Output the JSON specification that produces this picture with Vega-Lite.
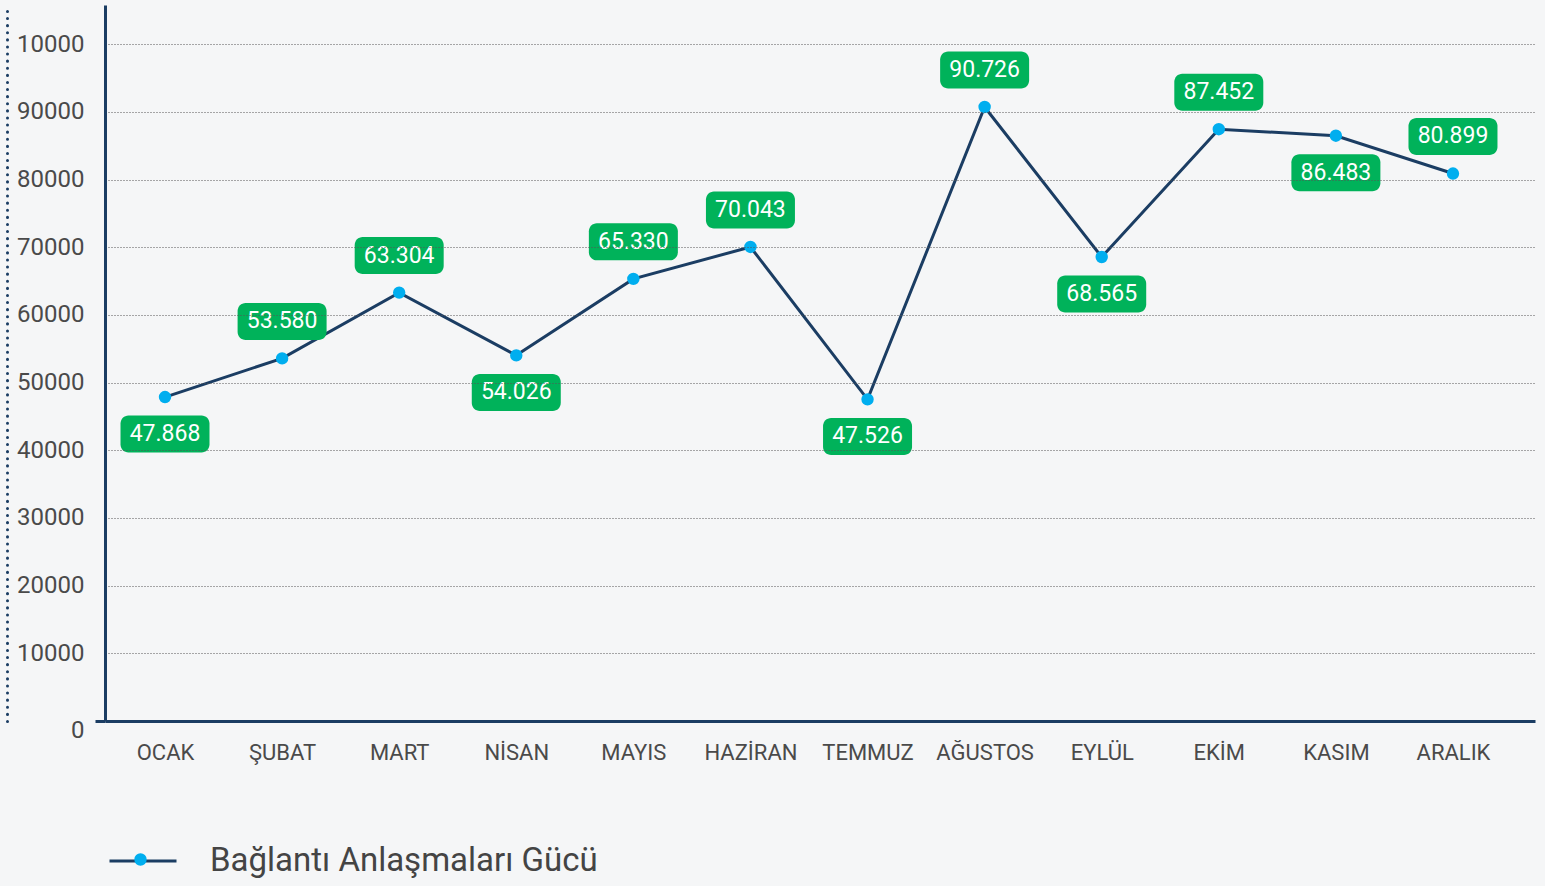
{
  "$schema": "https://vega.github.io/schema/vega-lite/v6.json",
  "width": 1430,
  "height": 716,
  "autosize": {"type": "none"},
  "padding": {"left": 105, "top": 5, "right": 10, "bottom": 165},
  "background": "#f5f6f7",
  "config": {
    "view": {"stroke": null},
    "font": "Roboto",
    "locale": {"number": {"decimal": ",", "thousands": ".", "grouping": [3], "currency": ["", " TL"]}}
  },
  "data": {
    "values": [
      {"month": "OCAK", "value": 47868, "series": "Bağlantı Anlaşmaları Gücü"},
      {"month": "ŞUBAT", "value": 53580, "series": "Bağlantı Anlaşmaları Gücü"},
      {"month": "MART", "value": 63304, "series": "Bağlantı Anlaşmaları Gücü"},
      {"month": "NİSAN", "value": 54026, "series": "Bağlantı Anlaşmaları Gücü"},
      {"month": "MAYIS", "value": 65330, "series": "Bağlantı Anlaşmaları Gücü"},
      {"month": "HAZİRAN", "value": 70043, "series": "Bağlantı Anlaşmaları Gücü"},
      {"month": "TEMMUZ", "value": 47526, "series": "Bağlantı Anlaşmaları Gücü"},
      {"month": "AĞUSTOS", "value": 90726, "series": "Bağlantı Anlaşmaları Gücü"},
      {"month": "EYLÜL", "value": 68565, "series": "Bağlantı Anlaşmaları Gücü"},
      {"month": "EKİM", "value": 87452, "series": "Bağlantı Anlaşmaları Gücü"},
      {"month": "KASIM", "value": 86483, "series": "Bağlantı Anlaşmaları Gücü"},
      {"month": "ARALIK", "value": 80899, "series": "Bağlantı Anlaşmaları Gücü"}
    ]
  },
  "transform": [
    {"calculate": "indexof(['OCAK','NİSAN','TEMMUZ','EYLÜL','KASIM'], datum.month) >= 0 ? datum.value - 5470 : datum.value + 5470", "as": "ly"},
    {"calculate": "datum.ly - 2734", "as": "lo"},
    {"calculate": "datum.ly + 2734", "as": "hi"}
  ],
  "resolve": {"axis": {"y": "independent"}},
  "encoding": {
    "x": {
      "field": "month",
      "type": "ordinal",
      "sort": null,
      "scale": {"type": "point", "padding": 0.6065, "align": 0.4225},
      "axis": {
        "title": null,
        "domain": true,
        "domainColor": "#1b3d63",
        "domainWidth": 3,
        "ticks": false,
        "grid": false,
        "labelAngle": 0,
        "labelFont": "Roboto",
        "labelFontSize": 22,
        "labelColor": "#4a4a4a",
        "labelPadding": 21
      }
    }
  },
  "layer": [
    {
      "mark": {"type": "line", "strokeWidth": 3},
      "encoding": {
        "y": {
          "field": "value",
          "type": "quantitative",
          "scale": {"domain": [0, 105800], "nice": false, "zero": true},
          "axis": {
            "title": null,
            "values": [0, 10000, 20000, 30000, 40000, 50000, 60000, 70000, 80000, 90000, 100000],
            "labelExpr": "datum.value == 100000 ? '10000' : format(datum.value, 'd')",
            "domain": true,
            "domainColor": "#1b3d63",
            "domainWidth": 3,
            "grid": true,
            "gridColor": "#555555",
            "gridDash": [1, 2],
            "gridWidth": 1,
            "gridOpacity": {"condition": {"test": "datum.value === 0", "value": 0}, "value": 1},
            "ticks": true,
            "tickSize": 10,
            "tickWidth": 3,
            "tickColor": {"condition": {"test": "datum.value === 0", "value": "#1b3d63"}, "value": "transparent"},
            "labelFont": "Roboto",
            "labelFontSize": 24,
            "labelColor": "#4a4a4a",
            "labelPadding": 11,
            "labelOffset": {"condition": {"test": "datum.value === 0", "value": 9}, "value": 0},
            "zindex": 1
          }
        },
        "stroke": {
          "field": "series",
          "type": "nominal",
          "scale": {"range": ["#1b3d63"]},
          "legend": {
            "title": null,
            "orient": "none",
            "legendX": 3,
            "legendY": 821,
            "symbolType": "stroke",
            "symbolSize": 4489,
            "symbolStrokeWidth": 3,
            "labelOffset": 32,
            "labelFont": "Roboto",
            "labelFontSize": 33,
            "labelColor": "#444444",
            "labelLimit": 0,
            "padding": 0,
            "zindex": 1
          }
        }
      }
    },
    {
      "mark": {"type": "point", "filled": true, "size": 154, "opacity": 1, "strokeWidth": 0},
      "encoding": {
        "y": {
          "field": "value",
          "type": "quantitative",
          "axis": {
            "title": null,
            "orient": "left",
            "offset": 98,
            "labels": false,
            "ticks": false,
            "grid": false,
            "domain": true,
            "domainColor": "#1b3d63",
            "domainWidth": 3,
            "domainDash": [0.1, 7],
            "domainCap": "round"
          }
        },
        "fill": {
          "datum": "Bağlantı Anlaşmaları Gücü",
          "scale": {"range": ["#00aeef"]},
          "legend": {
            "title": null,
            "orient": "none",
            "legendX": 29,
            "legendY": 848,
            "symbolType": "circle",
            "symbolSize": 154,
            "symbolStrokeWidth": 0,
            "labelExpr": "''",
            "labelFontSize": 1,
            "padding": 0,
            "zindex": 2
          }
        }
      }
    },
    {
      "mark": {"type": "rect", "width": 89, "cornerRadius": 8, "color": "#00b25a"},
      "encoding": {
        "y": {"field": "lo", "type": "quantitative", "axis": null},
        "y2": {"field": "hi"}
      }
    },
    {
      "mark": {"type": "text", "color": "#ffffff", "fontSize": 23, "font": "Roboto", "baseline": "middle", "align": "center"},
      "encoding": {
        "y": {"field": "ly", "type": "quantitative", "axis": null},
        "text": {"field": "value", "type": "quantitative", "format": ",d"}
      }
    }
  ]
}
